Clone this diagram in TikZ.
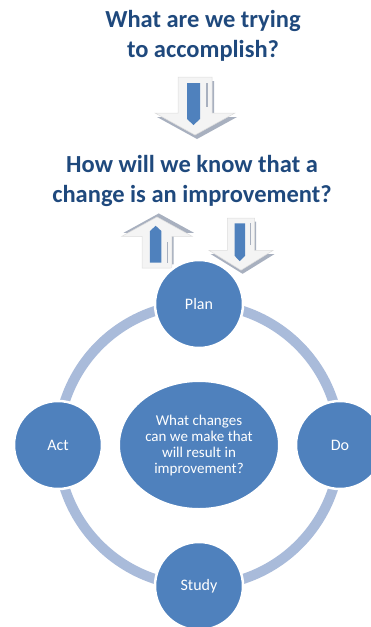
\documentclass[tikz,border=0pt]{standalone}
\usepackage{fontspec}
\setmainfont{Carlito}
\usetikzlibrary{shapes.geometric}
\definecolor{titleblue}{HTML}{1F497D}
\definecolor{nodeblue}{HTML}{4F81BD}
\definecolor{ringblue}{HTML}{A9BBDA}
\definecolor{arrowface}{HTML}{F4F4F4}
\definecolor{arrowedge}{HTML}{DCDCDC}
\definecolor{arrowshade}{HTML}{A8B0BF}
\tikzset{
  headline/.style={text=titleblue, font=\fontsize{24.5}{29.5}\selectfont\bfseries, align=center, inner sep=0pt},
  stage/.style={circle, fill=nodeblue, draw=white, line width=2.5pt, minimum size=88pt, inner sep=0pt, text=white, font=\fontsize{16}{19}\selectfont},
  hub/.style={ellipse, fill=nodeblue, draw=white, line width=2pt, minimum width=160pt, minimum height=128pt, inner sep=0pt, text=white, align=center, font=\fontsize{15}{16}\selectfont},
  ring/.style={draw=ringblue, line width=10pt},
  arrowbody/.style={fill=arrowface, draw=arrowedge, line width=0.5pt},
  arrowshadow/.style={fill=arrowshade},
  arrowbar/.style={fill=nodeblue},
}
\newcommand{\blockarrowshape}{(-17,0) -- (17,0) -- (17,36) -- (40,36) -- (0,58) -- (-40,36) -- (-17,36) -- cycle}
\newcommand{\drawblockarrow}{%
  \fill[arrowshadow, shift={(2,4)}] \blockarrowshape;
  \draw[arrowbody] \blockarrowshape;
  \fill[arrowbar] (-8,6) -- (5,6) -- (5,42) -- (-1.5,48) -- (-8,42) -- cycle;
  \fill[arrowshade] (11,6) rectangle (13,30);
}
\begin{document}
\begin{tikzpicture}[x=1pt,y=-1pt]
\useasboundingbox (0,0) rectangle (371,627);
% headlines
\node[headline] (aim) at (203,36) {What are we trying\\to accomplish?};
\node[headline] (measure) at (192,181) {How will we know that a\\change is an improvement?};
% arrows
\begin{scope}[shift={(195,77)}]
  \drawblockarrow
\end{scope}
\begin{scope}[shift={(241,218)}, xscale=0.8, yscale=0.9]
  \drawblockarrow
\end{scope}
\begin{scope}[shift={(157,268)}, xscale=0.88, yscale=-0.88]
  \drawblockarrow
\end{scope}
% cycle
\coordinate (mid) at (199,445);
\draw[ring] (mid) circle[radius=141];
\node[hub] (changes) at (mid) {What changes\\can we make that\\will result in\\improvement?};
\node[stage] (plan) at (199,304) {Plan};
\node[stage] (do) at (340,445) {Do};
\node[stage] (study) at (199,586) {Study};
\node[stage] (act) at (58,445) {Act};
\end{tikzpicture}
\end{document}
